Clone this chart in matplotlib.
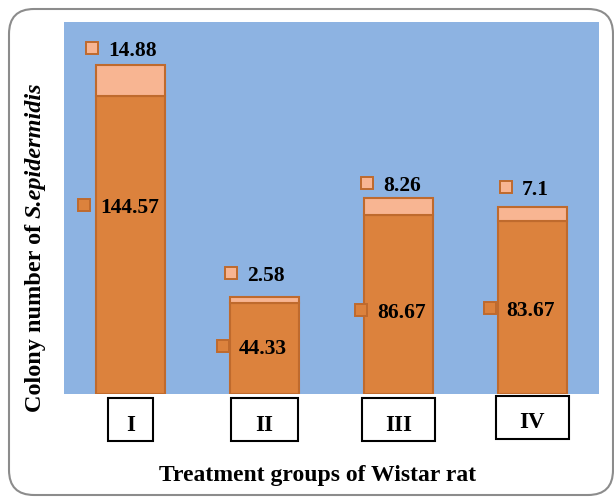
import matplotlib
matplotlib.use("Agg")
import matplotlib.pyplot as plt
from matplotlib.patches import FancyBboxPatch, Rectangle
from matplotlib.transforms import IdentityTransform, offset_copy, blended_transform_factory

# données
groupes = ["I", "II", "III", "IV"]
colonies_base = [144.57, 44.33, 86.67, 83.67]
colonies_haut = [14.88, 2.58, 8.26, 7.1]

# mise en page (pixels de l'image 614x497)
W, H = 614, 497
FONT = "Liberation Serif"
BLEU = "#8DB3E2"
ORANGE = "#DC823D"
SAUMON = "#F8B592"
BORD = "#BF6A2D"

label_y_base = [91.6, 23.3, 40.7, 41.7]
label_y_haut = [167.7, 58.7, 102.3, 100.3]
dx_base = [-47, -42, -37, -42]
dx_haut = [-39, -34, -31, -26]
largeur_boites = [0.336, 0.50, 0.546, 0.546]
y_boites = [-0.0108, -0.0108, -0.0108, -0.0054]
y_texte_boites = [-0.0995, -0.0995, -0.0995, -0.0914]

plt.rcParams["font.family"] = FONT
plt.rcParams["font.weight"] = "bold"

fig = plt.figure(figsize=(W / 100, H / 100), dpi=100)
ax = fig.add_axes([64 / W, (H - 394) / H, 535 / W, 372 / H])
ax.set_facecolor(BLEU)
for s in ax.spines.values():
    s.set_visible(False)
ax.set_xticks([])
ax.set_yticks([])
ax.set_xlim(-0.5, 3.5)
ax.set_ylim(0, 180.3)

x = list(range(len(groupes)))
ax.bar(x, colonies_base, width=0.516, color=ORANGE, edgecolor=BORD, linewidth=1.5)
ax.bar(x, colonies_haut, bottom=colonies_base, width=0.516, color=SAUMON, edgecolor=BORD, linewidth=1.5)


def etiquette(xi, yi, dx, valeur, couleur):
    tm = offset_copy(ax.transData, fig, x=dx, y=0, units="dots")
    ax.plot([xi], [yi], marker="s", markersize=8, markerfacecolor=couleur,
            markeredgecolor=BORD, markeredgewidth=1.4, transform=tm, clip_on=False)
    tt = offset_copy(ax.transData, fig, x=dx + 16, y=-8, units="dots")
    ax.text(xi, yi, f"{valeur:g}", transform=tt, ha="left", va="baseline",
            fontsize=15.5, fontweight="bold", color="black")


for i in x:
    etiquette(i, label_y_base[i], dx_base[i], colonies_base[i], ORANGE)
    etiquette(i, label_y_haut[i], dx_haut[i], colonies_haut[i], SAUMON)

# boîtes des groupes sous l'axe
trans = blended_transform_factory(ax.transData, ax.transAxes)
for i, g in enumerate(groupes):
    w = largeur_boites[i]
    ax.add_patch(Rectangle((i - w / 2, y_boites[i] - 43 / 372), w, 43 / 372, transform=trans,
                           facecolor="white", edgecolor="black", linewidth=1.5, clip_on=False))
    ax.text(i, y_texte_boites[i], g, transform=trans, ha="center", va="baseline",
            fontsize=16.5, fontweight="bold")

# titres des axes
fig.text(318 / W, 16 / H, "Treatment groups of Wistar rat", ha="center", va="baseline",
         fontsize=17, fontweight="bold")

t1 = fig.text(41 / W, 85 / H, "Colony number of ", rotation=90, rotation_mode="anchor",
              ha="left", va="baseline", fontsize=17.5, fontweight="bold")
fig.canvas.draw()
bb = t1.get_window_extent()
fig.text(41 / W, bb.y1 / H, "S.epidermidis", rotation=90, rotation_mode="anchor",
         ha="left", va="baseline", fontsize=17.5, fontweight="bold", fontstyle="italic")

# cadre arrondi
fig.patches.append(FancyBboxPatch((9, H - 495), 604, 486, boxstyle="round,pad=0,rounding_size=25",
                                  transform=IdentityTransform(), facecolor="none",
                                  edgecolor="#8C8C8C", linewidth=1.5, figure=fig))

fig.savefig("out.png", dpi=100)
